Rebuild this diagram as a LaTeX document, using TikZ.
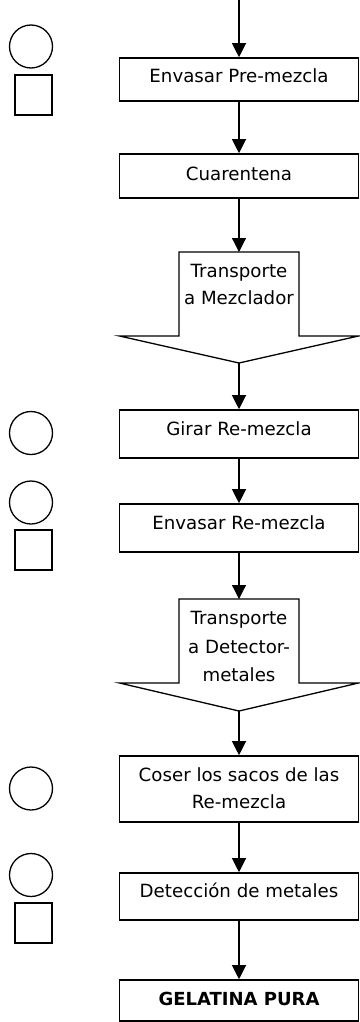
\documentclass[tikz,border=0pt]{standalone}
\usepackage{fontspec}
\setmainfont{DejaVu Sans}
\usetikzlibrary{arrows.meta}

\tikzset{
  stepbox/.style={draw, line width=1.6pt, minimum width=239pt, inner sep=0pt},
  txt/.style={anchor=base, inner sep=0pt, font=\fontsize{18.2}{22}\selectfont},
  flow/.style={line width=1.2pt, -{Triangle[width=14pt,length=14pt]}},
  opcircle/.style={draw, line width=1.3pt, circle, minimum size=43pt, inner sep=0pt},
  inspbox/.style={draw, line width=1.3pt, minimum width=37pt, minimum height=40pt, inner sep=0pt},
  transport/.pic={
    \draw[line width=1.3pt, line join=miter]
      (-60,0) -- (60,0) -- (60,84) -- (119.5,84) -- (0,#1) -- (-119.5,84)
      -- (-60,84) -- cycle;
    \coordinate (-top) at (0,0);
    \coordinate (-tip) at (0,#1);
  }
}

\begin{document}
\begin{tikzpicture}[x=1pt, y=-1pt]
\useasboundingbox (0,0) rectangle (359,1022);

% process steps
\node[stepbox, minimum height=43pt] (b1) at (239,79.5) {};
\node[txt] (l1) at (239,83) {Envasar Pre-mezcla};

\node[stepbox, minimum height=44pt] (b2) at (239,176) {};
\node[txt] (l2) at (239,180) {Cuarentena};

\pic (t1) at (239,252) {transport=111};
\node[txt] (l3a) at (239,277) {Transporte};
\node[txt] (l3b) at (239,304) {a Mezclador};

\node[stepbox, minimum height=48pt] (b3) at (239,434) {};
\node[txt] (l4) at (239,435) {Girar Re-mezcla};

\node[stepbox, minimum height=48pt] (b4) at (239,528) {};
\node[txt] (l5) at (239,529) {Envasar Re-mezcla};

\pic (t2) at (239,599) {transport=112};
\node[txt] (l6a) at (239,624) {Transporte};
\node[txt] (l6b) at (239,653) {a Detector-};
\node[txt] (l6c) at (239,681) {metales};

\node[stepbox, minimum height=66pt] (b5) at (239,789) {};
\node[txt] (l7a) at (239,781) {Coser los sacos de las};
\node[txt] (l7b) at (239,808) {Re-mezcla};

\node[stepbox, minimum height=47pt] (b6) at (239,896.5) {};
\node[txt] (l8) at (239,897) {Detección de metales};

\node[stepbox, minimum height=41pt] (b7) at (239,1000.5) {};
\node[txt, font=\fontsize{18}{22}\selectfont\bfseries] (l9) at (239,1005) {GELATINA PURA};

% connectors
\coordinate (in) at (239,0);
\draw[flow] (in) -- (b1.north);
\draw[flow] (b1.south) -- (b2.north);
\draw[flow] (b2.south) -- (t1-top);
\draw[flow] (t1-tip) -- (b3.north);
\draw[flow] (b3.south) -- (b4.north);
\draw[flow] (b4.south) -- (t2-top);
\draw[flow] (t2-tip) -- (b5.north);
\draw[flow] (b5.south) -- (b6.north);
\draw[flow] (b6.south) -- (b7.north);

% operation / inspection symbols
\node[opcircle] (c1) at (31,46.5) {};
\node[inspbox] (s1) at (33.5,95) {};
\node[opcircle] (c2) at (31,433) {};
\node[opcircle] (c3) at (31,502.5) {};
\node[inspbox] (s3) at (33.5,550) {};
\node[opcircle] (c4) at (31,788.5) {};
\node[opcircle] (c5) at (31,875) {};
\node[inspbox] (s5) at (33.5,923) {};
\end{tikzpicture}
\end{document}
